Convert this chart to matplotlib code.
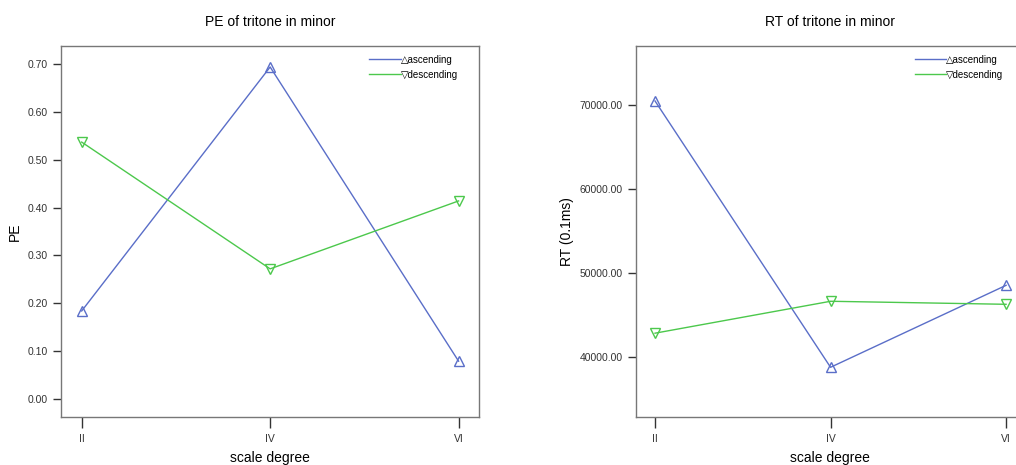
import matplotlib
matplotlib.use("Agg")
import matplotlib.pyplot as plt

plt.rcParams['font.family'] = ['Liberation Sans', 'DejaVu Sans']

degrees = ['II', 'IV', 'VI']
pe_asc = [0.184, 0.694, 0.079]
pe_desc = [0.537, 0.272, 0.414]
rt_asc = [70480, 38770, 48530]
rt_desc = [42830, 46630, 46270]

blue = '#5a6ec8'
green = '#4cc84c'

fig = plt.figure(figsize=(10.16, 4.65), dpi=100)
ax1 = fig.add_axes([0.060, 0.1032, 0.4114, 0.798])
ax2 = fig.add_axes([0.6257, 0.1032, 0.3832, 0.798])

x = range(len(degrees))


def style(ax, asc, desc, title, ylabel, legx):
    ax.plot(x, asc, color=blue, lw=1, marker='^', ms=6.5, mfc='none',
            mec=blue, mew=1, label='\u25b3ascending')
    ax.plot(x, desc, color=green, lw=1, marker='v', ms=6.5, mfc='none',
            mec=green, mew=1, label='\u25bddescending')
    ax.set_xlim(-0.11, 2.108)
    ax.set_xticks(list(x))
    ax.set_xticklabels(degrees)
    ax.set_title(title, fontsize=10, pad=14)
    ax.set_xlabel('scale degree', fontsize=10, labelpad=5)
    ax.set_ylabel(ylabel, fontsize=10)
    for s in ax.spines.values():
        s.set_color('#777777')
        s.set_linewidth(1)
    ax.tick_params(direction='out', length=6, width=1, color='#333333',
                   labelsize=7.5, labelcolor='#333333')
    ax.tick_params(axis='x', length=8, pad=4)
    leg = ax.legend(loc='upper right', bbox_to_anchor=(legx, 1.0),
                    frameon=False, fontsize=7, handlelength=3.2,
                    handletextpad=0.0, labelspacing=0.5)
    for h in leg.legend_handles:
        h.set_marker('')


style(ax1, pe_asc, pe_desc, 'PE of tritone in minor', 'PE', 0.97)
ax1.set_ylim(-0.0377, 0.738)
ax1.set_yticks([0.0, 0.1, 0.2, 0.3, 0.4, 0.5, 0.6, 0.7])
ax1.set_yticklabels(['%.2f' % v for v in ax1.get_yticks()])

style(ax2, rt_asc, rt_desc, 'RT of tritone in minor', 'RT (0.1ms)', 0.966)
ax2.set_ylim(32850, 77030)
ax2.set_yticks([40000, 50000, 60000, 70000])
ax2.set_yticklabels(['%.2f' % v for v in ax2.get_yticks()])

fig.savefig('out.png', dpi=100)
